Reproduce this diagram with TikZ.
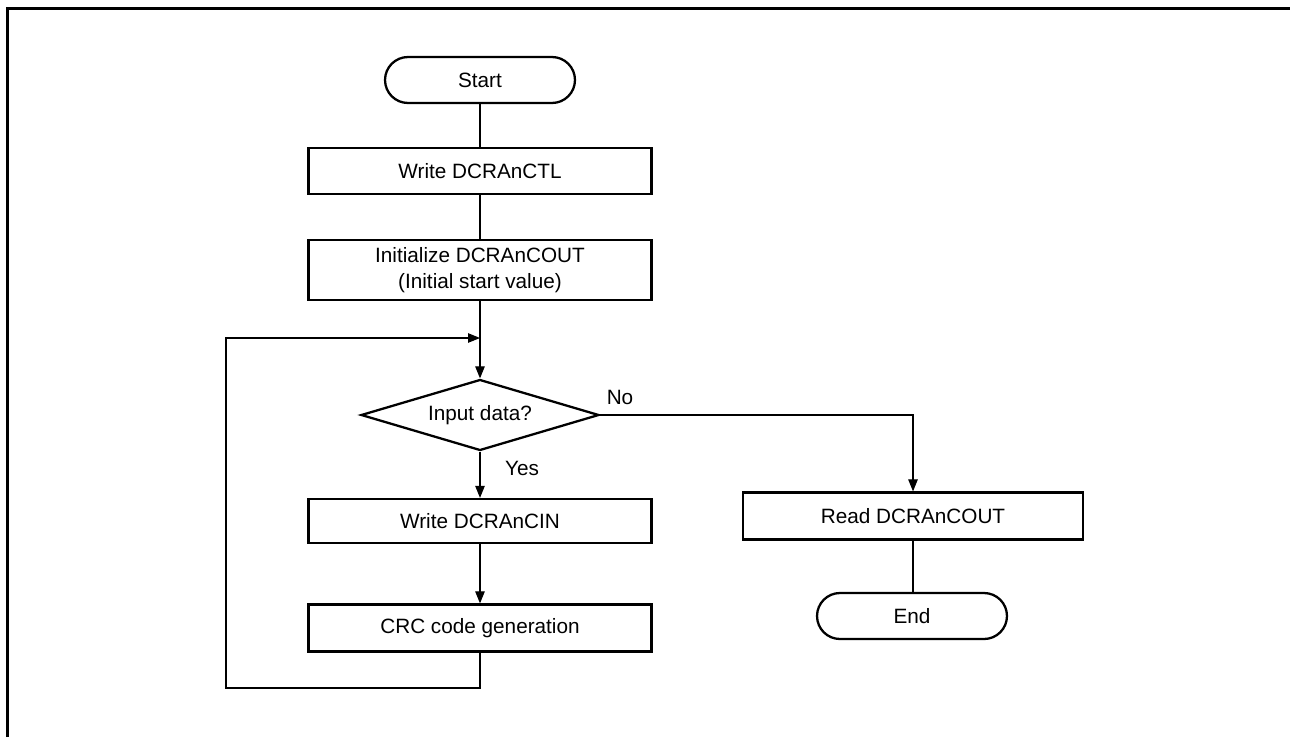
\documentclass[tikz,border=0pt]{standalone}
\usepackage{fontspec}
\setmainfont{Liberation Sans}
\usetikzlibrary{arrows.meta,positioning,shapes.geometric}

\begin{document}
\begin{tikzpicture}[x=0.02cm, y=-0.02cm, font=\fontsize{11.8}{14.5}\selectfont,
  >={Triangle[length=0.24cm,width=0.19cm]},
  proc/.style={draw, line width=1.3pt, minimum width=6.86cm, minimum height=0.92cm, inner sep=0pt, align=center},
  term/.style={draw, line width=1.3pt, rounded corners=0.46cm, minimum width=3.8cm, minimum height=0.92cm, inner sep=0pt},
  decision/.style={draw, diamond, line width=1.3pt, aspect=3.35, minimum width=4.76cm, minimum height=1.42cm, inner sep=0pt},
  flow/.style={line width=0.6pt}]
  \useasboundingbox (0,0) rectangle (1290,737);
  % open frame: top and left edge only
  \draw[line width=1.5pt] (7.5,737) -- (7.5,8.5) -- (1290,8.5);

  % main column
  \node[term] (start) at (480,80) {Start};
  \node[proc] (ctl) at (480,171) {Write DCRAnCTL};
  \node[proc, minimum height=1.2cm] (init) at (480,270) {Initialize DCRAnCOUT\\(Initial start value)};
  \coordinate (join) at (480,338);
  \node[decision] (test) at (480,415) {Input data?};
  \node[proc, minimum height=0.88cm] (cin) at (480,521) {Write DCRAnCIN};
  \node[proc, minimum height=0.94cm] (crc) at (480,628) {CRC code generation};
  \coordinate (loopc) at (226,688);

  % right column
  \node[proc, minimum width=6.8cm, minimum height=0.94cm] (read) at (913,516) {Read DCRAnCOUT};
  \node[term] (end) at (912,616) {End};

  % branch labels
  \node (yes) at (522,468) {Yes};
  \node (no) at (620,397) {No};

  \draw[flow] (start) -- (ctl);
  \draw[flow] (ctl) -- (init);
  \draw[flow,->] (init) -- (test);
  \draw[flow,->] (test) -- (cin);
  \draw[flow,->] (cin) -- (crc);
  \draw[flow,->] (crc.south) |- (loopc) |- (join);
  \draw[flow,->] (test.east) -| (read.north);
  \draw[flow] (read.south) -- (end.north -| read.south);
\end{tikzpicture}
\end{document}
